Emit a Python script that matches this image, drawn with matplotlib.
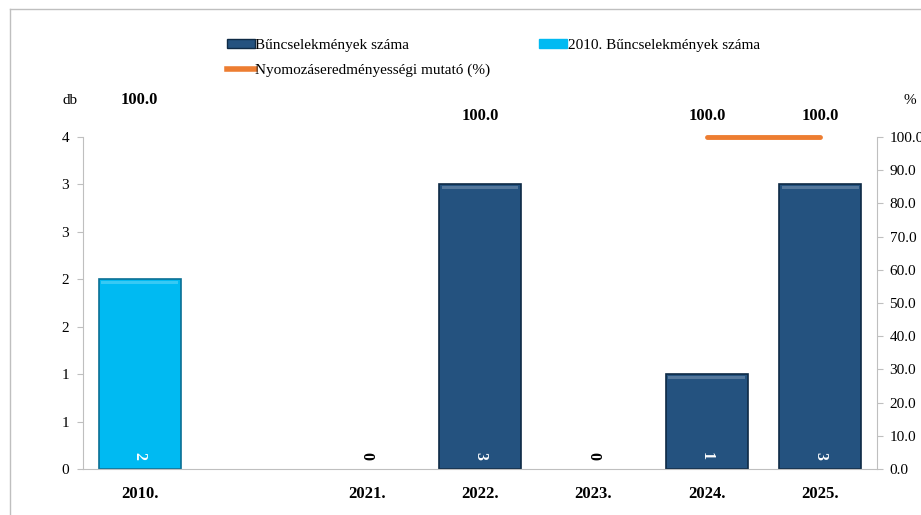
import matplotlib.pyplot as plt
from matplotlib.patches import Patch
from matplotlib.lines import Line2D
import numpy as np

plt.rcParams['font.family'] = ['Liberation Serif', 'DejaVu Serif']

categories = ['2010.', '', '2021.', '2022.', '2023.', '2024.', '2025.']
crimes = [np.nan, np.nan, 0, 3, 0, 1, 3]          # Bűncselekmények száma
crimes_2010 = [2, np.nan, np.nan, np.nan, np.nan, np.nan, np.nan]
ratio = [100.0, np.nan, np.nan, 100.0, np.nan, 100.0, 100.0]  # Nyomozáseredményességi mutató (%)

left_ticks = [0, 0.5, 1, 1.5, 2, 2.5, 3, 3.5]
left_labels = ['0', '1', '1', '2', '2', '3', '3', '4']
right_ticks = [0, 10, 20, 30, 40, 50, 60, 70, 80, 90, 100]

dark = '#24527F'
cyan = '#00BAF2'
orange = '#ED7D31'
grey = '#BFBFBF'

fig = plt.figure(figsize=(9.21, 5.15), dpi=100)
ax = fig.add_axes([83/921, 1-469/515, (877-83)/921, (469-137)/515])
ax2 = ax.twinx()

x = np.arange(len(categories))
w = 0.72

def bevel_bars(vals, col, edge):
    vals = np.array(vals, dtype=float)
    ok = np.nan_to_num(vals) > 0
    ax.bar(x[ok], vals[ok], w, color=col, edgecolor=edge, linewidth=1.2, zorder=2)
    # soft top highlight
    ax.bar(x[ok], 0.035, w*0.94, bottom=vals[ok]-0.05, color='white', alpha=0.22,
           linewidth=0, zorder=3)

bevel_bars(crimes, dark, '#0E2A45')
bevel_bars(crimes_2010, cyan, '#0A6F94')

# value labels inside bars
for vals in (crimes, crimes_2010):
    for xi, v in zip(x, vals):
        if np.isnan(v):
            continue
        c = 'white' if v > 0 else 'black'
        ax.text(xi, 0.14, f'{v:.0f}', rotation=270, ha='center', va='center',
                color=c, fontsize=11.5, fontweight='bold', zorder=4)

ax2.plot(x, ratio, color=orange, lw=3.5, solid_capstyle='round', zorder=5, clip_on=False)
for i, (xi, v) in enumerate(zip(x, ratio)):
    if np.isnan(v):
        continue
    off = 27 if i == 0 else 15
    ax2.annotate(f'{v:.1f}', (xi, v), xytext=(0, off), textcoords='offset points',
                 ha='center', va='center', fontsize=12, fontweight='bold',
                 annotation_clip=False)

ax.set_xlim(-0.5, len(categories)-0.5)
ax.set_ylim(0, 3.5)
ax2.set_ylim(0, 100)
ax.set_yticks(left_ticks)
ax.set_yticklabels(left_labels)
ax2.set_yticks(right_ticks)
ax2.set_yticklabels([f'{t:.1f}' for t in right_ticks])
ax.set_xticks(x)
ax.set_xticklabels(categories, fontweight='bold', fontsize=12)
ax.tick_params(axis='x', length=0, pad=12)
ax.tick_params(axis='y', labelsize=11, colors=grey, labelcolor='black', length=4, pad=6)
ax2.tick_params(axis='y', labelsize=11, colors=grey, labelcolor='black', length=4, pad=5)

for a in (ax, ax2):
    for s in a.spines.values():
        s.set_color(grey)
    a.spines['top'].set_visible(False)
ax.spines['right'].set_visible(False)
ax2.spines['left'].set_visible(False)
ax2.spines['bottom'].set_visible(False)

fig.text(62/921, 1-100/515, 'db', fontsize=11, va='center')
fig.text(903/921, 1-101/515, '%', fontsize=11, va='center')

handles = [Patch(facecolor=dark, edgecolor='#0E2A45'),
           Line2D([], [], color=orange, lw=4),
           Patch(facecolor=cyan, edgecolor=cyan)]
labels = ['Bűncselekmények száma', 'Nyomozáseredményességi mutató (%)',
          '2010. Bűncselekmények száma']
fig.legend(handles, labels, ncol=2, loc='upper left', bbox_to_anchor=(227/921, 1-39/515),
           frameon=False, fontsize=11, handlelength=1.8, handleheight=0.45,
           handletextpad=0.05, columnspacing=3.2, labelspacing=0.75, borderpad=0,
           borderaxespad=0)

# chart frame
fig.add_artist(Line2D([10/921, 10/921], [0, 1-9/515], color=grey, lw=1))
fig.add_artist(Line2D([10/921, 1], [1-9/515, 1-9/515], color=grey, lw=1))

fig.savefig('out.png', dpi=100)
